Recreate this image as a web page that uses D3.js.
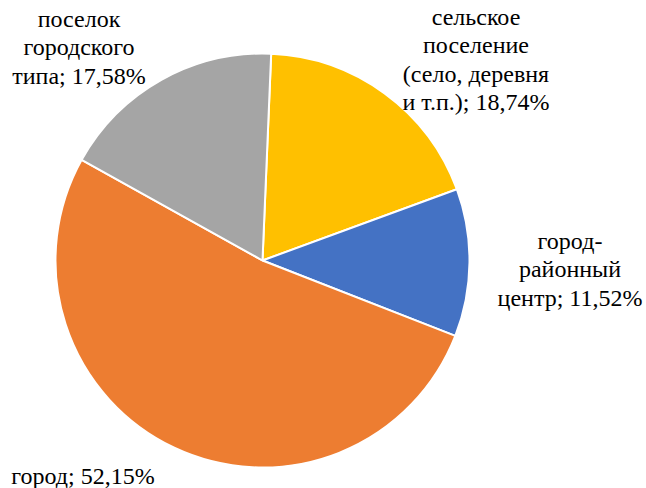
<html>
<head>
    <meta charset="UTF-8">
    <script src="https://d3js.org/d3.v7.min.js"></script>
</head>
<body style="margin:0">
    <svg id="c" width="646" height="488" font-family="Liberation Serif"></svg>

    <script>
        // данные, по часовой стрелке от верха
        const categories = [
            "сельское поселение (село, деревня и т.п.)",
            "город-районный центр",
            "город",
            "поселок городского типа"
        ];
        const values = [18.74, 11.52, 52.15, 17.58];
        const colors = ["#FFC000", "#4472C4", "#ED7D31", "#A5A5A5"];
        const labelLines = [
            ["сельское", "поселение", "(село, деревня", "и т.п.); 18,74%"],
            ["город-", "районный", "центр; 11,52%"],
            ["город; 52,15%"],
            ["поселок", "городского", "типа; 17,58%"]
        ];

        // раскладка подписей (центр x, базовая линия первой строки)
        const labelPos = [[476, 25], [570, 249], [83, 484], [79, 27]];

        const cx = 262.5, cy = 260.5, radius = 207;
        const lineH = 28.3;

        const svg = d3.select("#c");

        const rot = 2.4 * Math.PI / 180;
        const pie = d3.pie().sort(null).startAngle(rot).endAngle(2 * Math.PI + rot);
        const arc = d3.arc().innerRadius(0).outerRadius(radius);

        const g = svg.append("g").attr("transform", `translate(${cx},${cy})`);

        g.selectAll("path")
            .data(pie(values))
            .enter().append("path")
            .attr("d", arc)
            .attr("fill", (d, i) => colors[i])
            .attr("stroke", "white")
            .attr("stroke-width", 2)
            .attr("stroke-linejoin", "round");

        const labels = svg.append("g").style("font-family", "'Liberation Serif'");

        labelLines.forEach((lines, i) => {
            lines.forEach((ln, j) => {
                labels.append("text")
                    .attr("x", labelPos[i][0])
                    .attr("y", labelPos[i][1] + j * lineH)
                    .attr("text-anchor", "middle")
                    .style("font-family", "'Liberation Serif'")
                    .style("font-size", "24px")
                    .text(ln);
            });
        });
    </script>
</body>
</html>
